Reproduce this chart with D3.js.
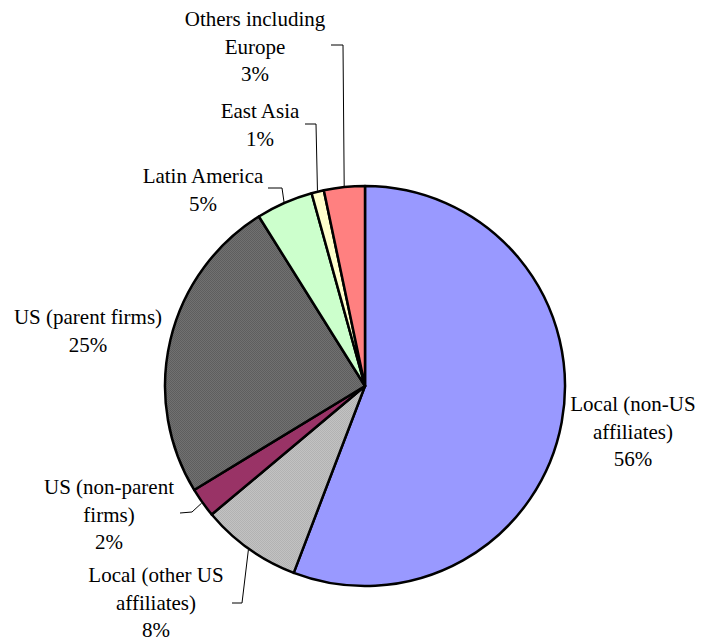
<!DOCTYPE html>
<html>
<head>
<meta charset="utf-8">
<script src="https://cdn.jsdelivr.net/npm/d3@7"></script>
<style>
  html, body { margin: 0; padding: 0; background: #fff; }
  svg { display: block; }
</style>
</head>
<body>
<svg id="chart" width="702" height="642"></svg>
<script>
// ---- data ----
const categories = [
  "Local (non-US affiliates)",
  "Local (other US affiliates)",
  "US (non-parent firms)",
  "US (parent firms)",
  "Latin America",
  "East Asia",
  "Others including Europe"
];
const values = [55.8, 8.1, 2.4, 24.8, 4.6, 1.0, 3.3];
const labelLines = [
  ["Local (non-US", "affiliates)"],
  ["Local (other US", "affiliates)"],
  ["US (non-parent", "firms)"],
  ["US (parent firms)"],
  ["Latin America"],
  ["East Asia"],
  ["Others including", "Europe"]
];
const colors = ["#9999FF", "url(#patLight)", "#993366", "url(#patDark)", "#CCFFCC", "#FFFFCC", "#FF8080"];

// ---- layout ----
const cx = 365, cy = 386, R = 200;
const lineH = 27.3;
const labelPos = [
  [633, 404],
  [156, 575],
  [109, 487],
  [88, 317],
  [203, 176],
  [260, 111],
  [255, 19]
];
const leaders = [
  null,
  [[232, 603], [242, 603]],
  [[180, 513], [192, 512]],
  null,
  [[268, 188], [282, 188]],
  [[305, 124], [316, 124]],
  [[331, 45], [343, 45]]
];

const svg = d3.select("#chart");
const defs = svg.append("defs");
function checker(id, a, b) {
  const p = defs.append("pattern").attr("id", id).attr("width", 2).attr("height", 2)
    .attr("patternUnits", "userSpaceOnUse");
  p.append("rect").attr("width", 2).attr("height", 2).attr("fill", a);
  p.append("rect").attr("width", 1).attr("height", 1).attr("fill", b);
  p.append("rect").attr("x", 1).attr("y", 1).attr("width", 1).attr("height", 1).attr("fill", b);
}
checker("patDark", "#5e5e5e", "#717171");
checker("patLight", "#b2b2b2", "#c2c2c2");

const pie = d3.pie().sort(null).value(d => d);
const arcs = pie(values);
const total = d3.sum(values);
const arc = d3.arc().innerRadius(0).outerRadius(R);

const g = svg.append("g").attr("transform", `translate(${cx},${cy})`);
g.selectAll("path.slice").data(arcs).join("path")
  .attr("class", "slice")
  .attr("d", arc)
  .attr("fill", (d, i) => colors[i])
  .attr("stroke", "#000")
  .attr("stroke-width", 2.5)
  .attr("stroke-linejoin", "round");

arcs.forEach((d, i) => {
  if (!leaders[i]) return;
  const a = (d.startAngle + d.endAngle) / 2;
  const end = [cx + Math.sin(a) * (R + 1), cy - Math.cos(a) * (R + 1)];
  const pts = leaders[i].concat([end]);
  svg.append("path")
    .attr("d", d3.line()(pts))
    .attr("fill", "none")
    .attr("stroke", "#000")
    .attr("stroke-width", 1);
});

arcs.forEach((d, i) => {
  const lines = labelLines[i].concat([Math.round(values[i] / total * 100) + "%"]);
  const [x, y] = labelPos[i];
  const t = svg.append("text")
    .attr("text-anchor", "middle")
    .attr("font-family", "'Liberation Serif', 'Times New Roman', Tinos, 'DejaVu Serif', serif")
    .attr("font-size", 21)
    .attr("fill", "#000");
  lines.forEach((s, k) => {
    t.append("tspan").attr("x", x).attr("y", y + k * lineH).attr("dy", "0.35em").text(s);
  });
});
</script>
</body>
</html>
